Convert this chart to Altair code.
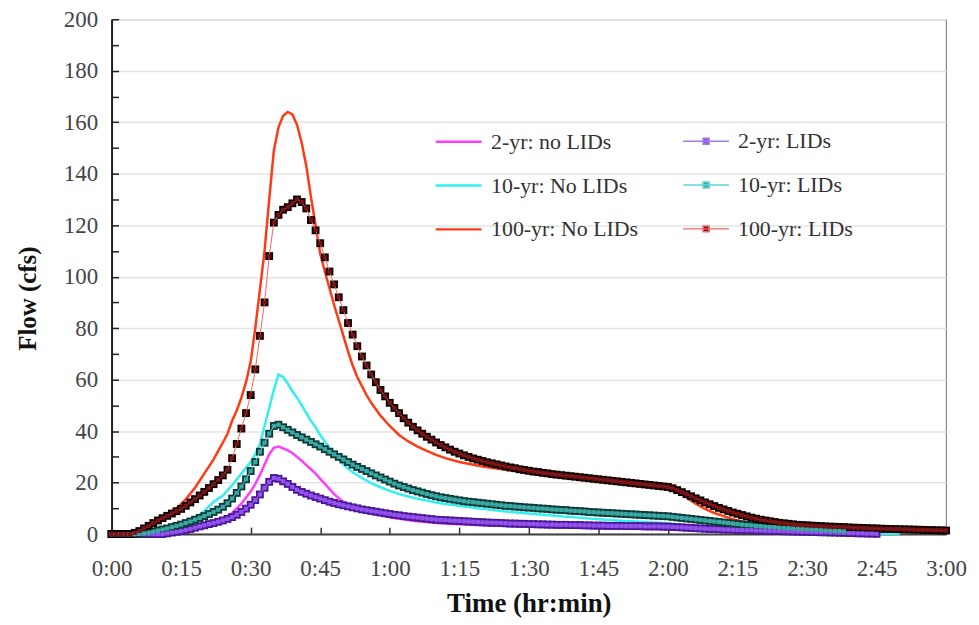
import altair as alt
import pandas as pd

# ---------------- data (flow in cfs, time in minutes) ----------------
NOLID_NAMES = ["2-yr: no LIDs", "10-yr: No LIDs", "100-yr: No LIDs"]
LID_NAMES = ["2-yr: LIDs", "10-yr: LIDs", "100-yr: LIDs"]

t_2yr_nolid = [0, 12, 14, 16, 18, 20, 22, 24, 26, 28, 30, 31, 32, 33, 34, 35, 36, 37, 38, 39,
               40, 41, 42, 43, 44, 46, 48, 50, 52, 55, 60, 65, 70, 75, 80, 90, 100, 110, 120, 125,
               130, 135, 140, 145, 150, 155]
v_2yr_nolid = [0, 0, 0.4, 0.9, 1.7, 3, 4.3, 5.8, 8.2, 11.8, 16.5, 19.5, 23, 27, 31, 33.5, 34, 33.3, 32.5, 31.5,
               30, 28.5, 26.8, 25.2, 23.5, 19.5, 15.5, 12.5, 10.5, 8.5, 6.5, 5.2, 4.3, 3.8, 3.4, 2.9, 2.5, 2.2, 1.9, 1.5,
               1.1, 0.8, 0.5, 0.3, 0.15, 0.05]

t_10yr_nolid = [0, 6, 8, 10, 12, 14, 16, 18, 20, 22, 24, 26, 28, 30, 31, 32, 33, 34, 35, 36,
                37, 38, 39, 40, 41, 42, 43, 44, 45, 46, 47, 48, 49, 50, 52, 54, 56, 58, 60, 62,
                64, 66, 68, 70, 72, 75, 80, 85, 90, 95, 100, 105, 110, 115, 120, 125, 130, 135, 140, 145,
                150, 155, 160, 165, 170]
v_10yr_nolid = [0, 0, 0.5, 1.2, 2, 3, 4.3, 6, 9, 12.5, 15, 19, 23.5, 28, 31, 35, 42, 49, 56, 62,
                61, 58.5, 55.5, 53, 50, 47, 44, 41.5, 38.5, 36, 33.5, 31, 29, 27, 24, 21.8, 19.8, 18.2, 16.8, 15.6,
                14.6, 13.7, 13, 12.3, 11.7, 11, 9.8, 8.8, 8, 7.2, 6.5, 5.8, 5.2, 4.7, 4.2, 3.2, 2.4, 1.8, 1.3, 0.9,
                0.6, 0.4, 0.2, 0.1, 0.05]

t_100yr_nolid = [0, 5, 6, 8, 10, 12, 14, 16, 18, 20, 22, 24, 25, 26, 27, 28, 29, 30, 31, 32,
                 33, 34, 35, 36, 37, 38, 39, 40, 41, 42, 43, 44, 45, 46, 47, 48, 49, 50, 51, 52,
                 53, 54, 55, 56, 57, 58, 60, 62, 64, 66, 68, 70, 72, 75, 80, 85, 90, 95, 100, 105,
                 110, 115, 120, 122, 124, 126, 128, 130, 132, 134, 136, 138, 140, 145, 150, 160, 170, 180]
v_100yr_nolid = [0, 0.3, 1, 3, 5, 7.5, 10, 13.5, 18, 23.5, 29, 35.5, 39, 44, 48, 53, 59, 67, 80, 95,
                 110, 130, 149, 158, 162.5, 164, 163, 159, 152, 143, 131, 120, 109, 102, 95.5, 89, 83, 77, 71, 65.5,
                 61, 57.5, 54, 51, 48.5, 46, 42, 38.5, 36, 34, 32.3, 30.8, 29.5, 28, 26.3, 25, 23.8, 22.8, 22, 21.2,
                 20.5, 19.8, 19, 16.8, 14.2, 11.8, 9.8, 8.2, 7.0, 5.8, 5.0, 4.3, 3.8, 2.8, 2.2, 1.5, 1.0, 0.7]

# LID series: one value per minute starting at 0:00
v_2yr_lid = [0, 0, 0, 0, 0, 0, 0, 0, 0, 0,
             0, 0, 0.3, 0.6, 0.9, 1.2, 1.6, 2.0, 2.5, 3.0,
             3.4, 3.9, 4.3, 4.8, 5.3, 5.9, 6.6, 7.5, 8.6, 9.9,
             11.4, 13.2, 15.4, 18, 20.3, 21.8, 21.5, 20.5, 19.5, 18.3,
             17.2, 16.4, 15.7, 15.0, 14.4, 13.8, 13.2, 12.6, 12.1, 11.6,
             11.2, 10.8, 10.4, 10.0, 9.6, 9.3, 9.0, 8.7, 8.4, 8.1,
             7.8, 7.5, 7.3, 7.0, 6.8, 6.6, 6.4, 6.2, 6.0, 5.8,
             5.6, 5.5, 5.4, 5.3, 5.2, 5.1, 5.0, 4.9, 4.8, 4.7,
             4.6, 4.5, 4.4, 4.4, 4.3, 4.2, 4.1, 4.1, 4.0, 4.0,
             3.9, 3.9, 3.8, 3.8, 3.7, 3.7, 3.6, 3.6, 3.6, 3.5,
             3.5, 3.5, 3.4, 3.4, 3.3, 3.3, 3.3, 3.2, 3.2, 3.2,
             3.2, 3.1, 3.1, 3.1, 3.1, 3.0, 3.0, 3.0, 3.0, 2.9,
             2.9, 2.8, 2.7, 2.6, 2.5, 2.4, 2.3, 2.2, 2.1, 2.0,
             2.0, 1.9, 1.8, 1.8, 1.7, 1.6, 1.6, 1.5, 1.5, 1.4,
             1.4, 1.3, 1.3, 1.2, 1.2, 1.1, 1.1, 1.0, 1.0, 0.9,
             0.9, 0.8, 0.8, 0.7, 0.7, 0.6, 0.6, 0.5, 0.5, 0.4,
             0.4, 0.3, 0.3, 0.2, 0.2, 0.1]

v_10yr_lid = [0, 0, 0, 0, 0, 0, 0.1, 0.3, 0.6, 1.0,
              1.4, 1.8, 2.2, 2.7, 3.2, 3.7, 4.3, 4.9, 5.6, 6.3,
              7.0, 7.8, 8.6, 9.5, 10.6, 12, 13.8, 16, 18.5, 21.3,
              24.5, 28, 32, 35.5, 39, 42, 42.5, 41.5, 40.5, 39.5,
              38.5, 37.6, 36.7, 35.8, 34.9, 34, 33, 32, 31, 30,
              29, 28, 27, 26.1, 25.3, 24.5, 23.6, 22.8, 22, 21.2,
              20.4, 19.6, 18.9, 18.3, 17.7, 17.1, 16.6, 16.1, 15.6, 15.1,
              14.7, 14.3, 14.0, 13.7, 13.4, 13.1, 12.8, 12.6, 12.4, 12.2,
              12.0, 11.8, 11.6, 11.4, 11.2, 11.0, 10.9, 10.7, 10.6, 10.4,
              10.3, 10.2, 10.0, 9.9, 9.8, 9.6, 9.5, 9.4, 9.3, 9.1,
              9.0, 8.9, 8.8, 8.6, 8.5, 8.4, 8.3, 8.2, 8.1, 8.0,
              7.9, 7.8, 7.7, 7.6, 7.5, 7.4, 7.3, 7.2, 7.1, 7.0,
              6.9, 6.7, 6.5, 6.3, 6.1, 5.9, 5.7, 5.5, 5.3, 5.1,
              4.9, 4.7, 4.5, 4.3, 4.1, 3.9, 3.7, 3.5, 3.4, 3.2,
              3.1, 2.9, 2.8, 2.7, 2.5, 2.4, 2.3, 2.2, 2.1, 2.0,
              1.9, 1.8, 1.7, 1.6, 1.5, 1.4, 1.3, 1.2, 1.1]

v_100yr_lid = [0, 0, 0, 0, 0, 0.5, 1.2, 2.2, 3.2, 4.3,
               5.3, 6.2, 7.1, 8.0, 8.9, 9.8, 11.0, 12.3, 13.6, 15.0,
               16.4, 17.9, 19.4, 21.0, 22.8, 25.0, 29.5, 35, 41, 47,
               54, 64, 77, 90, 108, 121, 124, 126, 127, 128.5,
               130, 129, 126.5, 122, 118, 113, 107.5, 102, 97, 92,
               87, 82, 77.5, 73, 69, 65.5, 62, 59, 56, 53.5,
               51, 49, 47, 45, 43.3, 41.7, 40.3, 39, 37.8, 36.7,
               35.6, 34.6, 33.7, 32.8, 32, 31.3, 30.6, 30, 29.4, 28.9,
               28.4, 27.9, 27.5, 27.1, 26.7, 26.3, 25.9, 25.6, 25.2, 24.9,
               24.6, 24.3, 24.1, 23.8, 23.6, 23.3, 23.1, 22.9, 22.7, 22.5,
               22.3, 22.1, 21.9, 21.7, 21.5, 21.3, 21.1, 20.9, 20.7, 20.5,
               20.3, 20.1, 19.9, 19.7, 19.5, 19.3, 19.1, 18.9, 18.7, 18.5,
               18.3, 17.8, 17.1, 16.3, 15.5, 14.7, 13.9, 13.1, 12.3, 11.6,
               10.9, 10.2, 9.6, 9.0, 8.4, 7.9, 7.4, 6.9, 6.4, 6.0,
               5.6, 5.3, 5.0, 4.7, 4.4, 4.2, 4.0, 3.8, 3.6, 3.5,
               3.4, 3.3, 3.2, 3.1, 3.0, 2.9, 2.85, 2.8, 2.7, 2.6,
               2.5, 2.45, 2.4, 2.3, 2.25, 2.2, 2.1, 2.05, 2.0, 1.95,
               1.9, 1.85, 1.8, 1.75, 1.7, 1.65, 1.6, 1.55, 1.5, 1.45, 1.4]

Y_TICKS = [0, 20, 40, 60, 80, 100, 120, 140, 160, 180, 200]
Y_MINOR = [0, 10, 20, 30, 40, 50, 60, 70, 80, 90, 100, 110, 120, 130, 140, 150, 160, 170, 180, 190, 200]
X_TICKS = [0, 15, 30, 45, 60, 75, 90, 105, 120, 135, 150, 165, 180]

# ---------------- tables ----------------
nolid_rows = []
for name, ts, vs in zip(NOLID_NAMES, [t_2yr_nolid, t_10yr_nolid, t_100yr_nolid],
                        [v_2yr_nolid, v_10yr_nolid, v_100yr_nolid]):
    for t, v in zip(ts, vs):
        nolid_rows.append({"t": t, "v": v, "series": name})
df_nolid = pd.DataFrame(nolid_rows)

lid_rows = []
for name, vs in zip(LID_NAMES, [v_2yr_lid, v_10yr_lid, v_100yr_lid]):
    for t, v in enumerate(vs):
        lid_rows.append({"t": t, "v": v, "series2": name})
df_lid = pd.DataFrame(lid_rows)

# ---------------- styling ----------------
FONT = "Liberation Serif"
NOLID_COLORS = ["#ff3cff", "#33f0f0", "#ff3a14"]
LID_LINE_COLORS = ["#a47be6", "#5ed6d6", "#f06666"]
LID_EDGE_COLORS = ["#4a1896", "#0c3838", "#100000"]
LID_FILL_COLORS = ["#9352ee", "#3aa8a2", "#7a1414"]

W, H = 838, 517
xs = alt.Scale(domain=[0, 180], nice=False, zero=False)
ys = alt.Scale(domain=[0, 200], nice=False)

label_expr = "floor(datum.value/60) + ':' + (datum.value % 60 < 10 ? '0' : '') + (datum.value % 60)"

common_legend = dict(
    orient="none", direction="vertical", title=None, padding=0,
    symbolSize=529, labelOffset=19.5, rowPadding=20,
    labelFont=FONT, labelFontSize=22, labelColor="#333", labelLimit=300,
)

legend_nolid = alt.Legend(legendX=335.5, legendY=110, symbolType="M-2,0H2",
                          symbolStrokeWidth=2.5, **common_legend)
legend_lid = alt.Legend(legendX=584.5, legendY=110,
                        symbolType="M-2,0H2M-0.26,-0.26H0.26V0.26H-0.26Z",
                        symbolStrokeWidth=1.5, **common_legend)

# layer A: no-LID lines with the main (labelled) axes
lines_nolid = alt.Chart(df_nolid).mark_line(strokeWidth=2.5).encode(
    x=alt.X("t:Q", scale=xs, axis=alt.Axis(
        values=X_TICKS, labelExpr=label_expr, tickSize=0, labelPadding=24,
        labelFont=FONT, labelFontSize=23, labelColor="#444", labelFlush=False,
        domainColor="#444", domainWidth=2, grid=False,
        title="Time (hr:min)", titleFont=FONT, titleFontSize=27, titleFontWeight="bold",
        titleColor="#111", titleY=70, titleBaseline="middle")),
    y=alt.Y("v:Q", scale=ys, axis=alt.Axis(
        values=Y_TICKS, tickSize=0, labelPadding=14,
        labelFont=FONT, labelFontSize=23, labelColor="#444",
        domainColor="#222", domainWidth=2,
        grid=True, gridColor="#e4e4e4", gridWidth=1.5,
        title="Flow (cfs)", titleFont=FONT, titleFontSize=25, titleFontWeight="bold",
        titleColor="#111", titleX=-84, titleY=280, titleAngle=270,
        titleAlign="center", titleBaseline="middle")),
    color=alt.Color("series:N", scale=alt.Scale(domain=NOLID_NAMES, range=NOLID_COLORS),
                    legend=legend_nolid),
)

# layer B: thin LID lines + inward tick marks
lines_lid = alt.Chart(df_lid).mark_line(strokeWidth=1).encode(
    x=alt.X("t:Q", scale=xs, axis=alt.Axis(
        orient="top", offset=-H, values=X_TICKS, tickSize=7, tickColor="#333",
        tickWidth=1.5, labels=False, domain=False, grid=False, title=None)),
    y=alt.Y("v:Q", scale=ys, axis=alt.Axis(
        orient="right", offset=-W, values=Y_MINOR, tickSize=7, tickColor="#222",
        tickWidth=1.5, labels=False, domain=False, grid=False, title=None)),
    stroke=alt.Stroke("series2:N", scale=alt.Scale(domain=LID_NAMES, range=LID_LINE_COLORS),
                      legend=legend_lid),
)

# layer C: marker edges
marker_edges = alt.Chart(df_lid).mark_square(size=62, opacity=1).encode(
    x=alt.X("t:Q", scale=xs, axis=None),
    y=alt.Y("v:Q", scale=ys, axis=None),
    color=alt.Color("series2:N", scale=alt.Scale(domain=LID_NAMES, range=LID_EDGE_COLORS),
                    legend=None),
)

# layer D: marker fills
marker_fills = alt.Chart(df_lid).mark_point(shape="square", filled=True, size=18, opacity=1).encode(
    x=alt.X("t:Q", scale=xs, axis=None),
    y=alt.Y("v:Q", scale=ys, axis=None),
    fill=alt.Fill("series2:N", scale=alt.Scale(domain=LID_NAMES, range=LID_FILL_COLORS),
                  legend=legend_lid),
)

chart = alt.layer(lines_nolid, marker_edges, lines_lid, marker_fills).resolve_scale(
    color="independent"
).resolve_axis(
    x="independent", y="independent"
).properties(
    width=W, height=H,
    autosize=alt.AutoSizeParams(type="none"),
    padding={"left": 104, "top": 10, "right": 25, "bottom": 95},
).configure(
    font=FONT, background="white",
).configure_view(
    stroke="#888", strokeWidth=1.2,
)

chart.save("out.html", embed_options={"renderer": "svg", "actions": False})
